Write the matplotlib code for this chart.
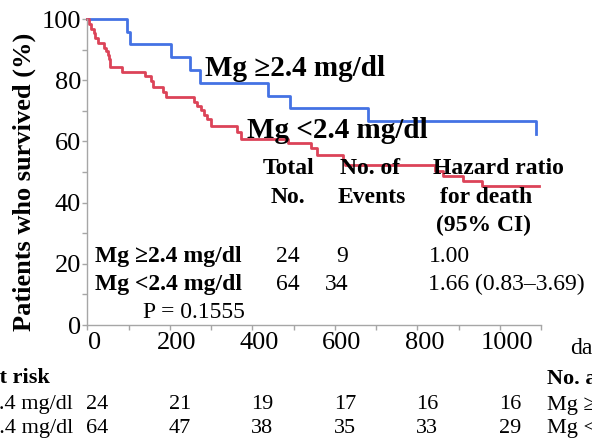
import matplotlib
matplotlib.use('Agg')
import matplotlib.pyplot as plt
import matplotlib.transforms as mtransforms
from matplotlib.ticker import MultipleLocator

# Kaplan-Meier steps (days, % surviving)
high_days = [0, 97, 104, 202, 249, 273, 438, 492, 680, 1089]
high_surv = [100, 95.8, 91.7, 87.5, 83.3, 79.2, 75.0, 70.8, 66.7, 62.5]

low_days = [0, 4, 9, 15, 19, 27, 41, 45, 49, 53, 55, 84, 140, 155, 160, 184, 191,
            258, 265, 276, 284, 290, 299, 363, 373, 487, 543, 557, 620, 625,
            843, 862, 910, 958, 1095]
low_surv = [100, 98.4, 96.9, 95.3, 93.8, 92.2, 90.6, 89.6, 88.4, 87.1, 84.4, 82.8,
            81.3, 79.8, 77.9, 76.3, 74.6, 73.0, 71.6, 70.3, 68.6, 67.2, 65.0, 63.2,
            60.8, 59.4, 57.7, 55.5, 53.9, 52.3, 50.5, 48.7, 47.2, 45.5, 45.5]

group_names = ['Mg \u22652.4 mg/dl', 'Mg <2.4 mg/dl']
total_no = ['24', '64']
events = ['9', '34']
hazard = ['1.00', '1.66 (0.83\u20133.69)']
p_text = 'P = 0.1555'

risk_days = [0, 200, 400, 600, 800, 1000]
risk_high = [24, 21, 19, 17, 16, 16]
risk_low = [64, 47, 38, 35, 33, 29]

blue = '#4472e4'
red = '#dc4358'
grey = '#a6a6a6'

plt.rcParams['font.family'] = ['Liberation Serif', 'DejaVu Serif']

fig = plt.figure(figsize=(5.92, 4.44), dpi=100)
ax = fig.add_axes([0.1475, 0.268, 0.7664, 0.689])

ax.step(high_days, high_surv, where='post', color=blue, lw=2, clip_on=False)
ax.step(low_days, low_surv, where='post', color=red, lw=2, clip_on=False)

ax.set_xlim(0, 1100)
ax.set_ylim(0, 100)
ax.xaxis.set_major_locator(MultipleLocator(200))
ax.xaxis.set_minor_locator(MultipleLocator(100))
ax.yaxis.set_major_locator(MultipleLocator(20))
ax.yaxis.set_minor_locator(MultipleLocator(10))
for s in ['top', 'right']:
    ax.spines[s].set_visible(False)
for s in ['left', 'bottom']:
    ax.spines[s].set_color(grey)
    ax.spines[s].set_linewidth(1)
ax.tick_params(which='both', direction='out', length=3.6, width=1, color=grey)
ax.tick_params(axis='both', labelsize=19)
ax.tick_params(axis='x', pad=1.5)
ax.tick_params(axis='y', pad=0.8)

fig.canvas.draw()
shift = mtransforms.ScaledTranslation(0.07, 0, fig.dpi_scale_trans)
for lab in ax.get_xticklabels():
    lab.set_transform(lab.get_transform() + shift)
down = mtransforms.ScaledTranslation(0, -0.09, fig.dpi_scale_trans)
ylabs = ax.get_yticklabels()
ylabs[0].set_transform(ylabs[0].get_transform() + down)

fig.text(24 / 592, 1 - 182 / 444, 'Patients who survived (%)', rotation=90,
         ha='center', va='center', fontsize=19, fontweight='bold')

# curve labels
ax.text(286, 84.0, group_names[0], fontsize=21, fontweight='bold', va='center')
ax.text(388, 63.7, group_names[1], fontsize=21, fontweight='bold', va='center')

# table inside the plot
fs = 17
ax.text(487, 51.3, 'Total', fontsize=fs, fontweight='bold', ha='center', va='center')
ax.text(487, 41.8, 'No.', fontsize=fs, fontweight='bold', ha='center', va='center')
ax.text(686, 51.3, 'No. of', fontsize=fs, fontweight='bold', ha='center', va='center')
ax.text(690, 41.8, 'Events', fontsize=fs, fontweight='bold', ha='center', va='center')
ax.text(997, 51.3, 'Hazard ratio', fontsize=fs, fontweight='bold', ha='center', va='center')
ax.text(968, 41.8, 'for death', fontsize=fs, fontweight='bold', ha='center', va='center')
ax.text(960, 32.4, '(95% CI)', fontsize=fs, fontweight='bold', ha='center', va='center')

for i, ypos in enumerate([22.5, 13.1]):
    ax.text(19, ypos, group_names[i], fontsize=fs, fontweight='bold', va='center')
    ax.text(486, ypos, total_no[i], fontsize=fs, ha='center', va='center')
    ax.text(633, ypos, events[i], fontsize=fs, ha='right', va='center')
    ax.text(827, ypos, hazard[i], fontsize=fs, va='center')
ax.text(135, 4.2, p_text, fontsize=fs, va='center')

# numbers at risk below the axis
bt = mtransforms.blended_transform_factory(ax.transData, fig.transFigure)
num_shift = mtransforms.ScaledTranslation(0.10, 0, fig.dpi_scale_trans)


def fy(py):
    return 1 - py / 444


fig.text(0, 0, '')
ax.text(1171, fy(348), 'days', transform=bt, fontsize=17, va='center')
ax.text(-90, fy(378), 'No. at risk', transform=bt, fontsize=16, fontweight='bold',
        ha='right', va='center')
ax.text(-35, fy(404), group_names[0], transform=bt, fontsize=16, ha='right', va='center')
ax.text(-35, fy(428), group_names[1], transform=bt, fontsize=16, ha='right', va='center')
for d, a, b in zip(risk_days, risk_high, risk_low):
    ax.text(d, fy(404), str(a), transform=bt + num_shift, fontsize=16, ha='center', va='center')
    ax.text(d, fy(428), str(b), transform=bt + num_shift, fontsize=16, ha='center', va='center')

# the next panel's at-risk header, cut by the right edge
ax.text(1115, fy(379), 'No. at risk', transform=bt, fontsize=16, fontweight='bold', va='center')
ax.text(1115, fy(405), group_names[0], transform=bt, fontsize=16, va='center')
ax.text(1115, fy(428), group_names[1], transform=bt, fontsize=16, va='center')

fig.savefig('out.png', dpi=100)
